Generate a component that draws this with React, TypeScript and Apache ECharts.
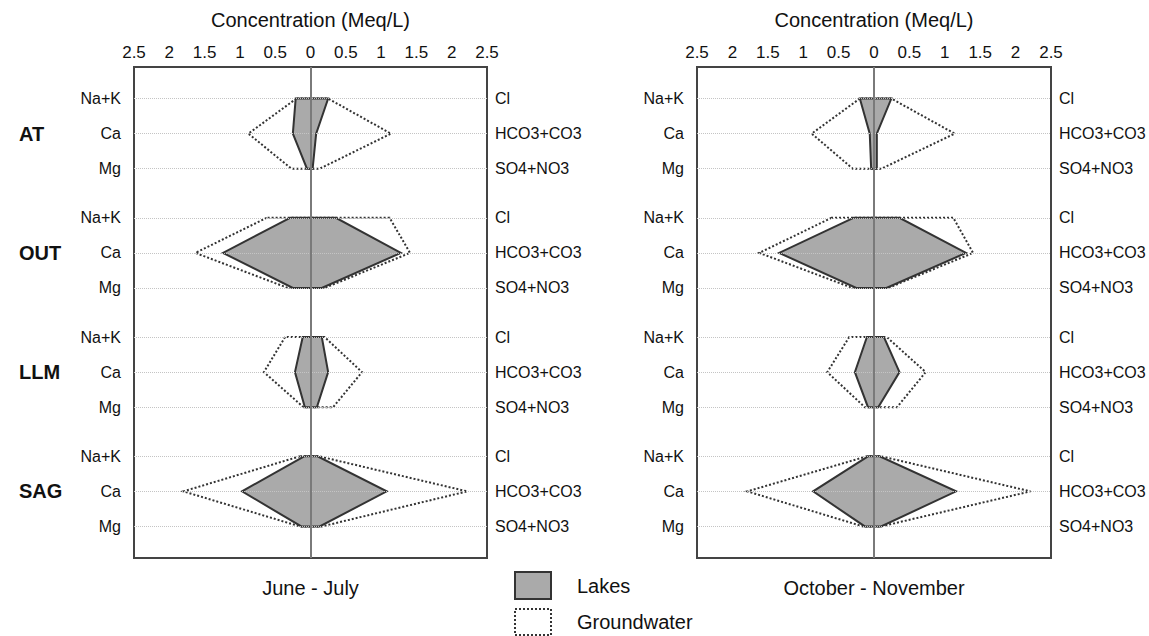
import React, { useEffect, useRef } from "react";
import * as echarts from "echarts";

// ---- data ----
const sites = ["AT", "OUT", "LLM", "SAG"];
const cations = ["Na+K", "Ca", "Mg"];
const anions = ["Cl", "HCO3+CO3", "SO4+NO3"];
const periods = ["June - July", "October - November"];
const seriesNames = ["Lakes", "Groundwater"];

// magnitudes (Meq/L): cations plotted to the left, anions to the right
const juneLakesCat = [[0.21, 0.25, 0.05], [0.29, 1.24, 0.25], [0.11, 0.22, 0.08], [0.09, 0.97, 0.13]];
const juneLakesAn = [[0.25, 0.08, 0.03], [0.36, 1.28, 0.16], [0.16, 0.25, 0.09], [0.1, 1.08, 0.13]];
const juneGwCat = [[0.2, 0.88, 0.27], [0.62, 1.63, 0.32], [0.36, 0.66, 0.1], [0.15, 1.8, 0.15]];
const juneGwAn = [[0.25, 1.14, 0.13], [1.12, 1.41, 0.2], [0.2, 0.73, 0.32], [0.12, 2.22, 0.16]];

const octLakesCat = [[0.2, 0.06, 0.04], [0.29, 1.34, 0.25], [0.1, 0.27, 0.085], [0.085, 0.86, 0.13]];
const octLakesAn = [[0.245, 0.04, 0.04], [0.36, 1.3, 0.175], [0.14, 0.36, 0.06], [0.08, 1.16, 0.1]];
const octGwCat = [[0.2, 0.88, 0.3], [0.6, 1.62, 0.305], [0.35, 0.66, 0.13], [0.1, 1.79, 0.155]];
const octGwAn = [[0.245, 1.14, 0.105], [1.12, 1.4, 0.2], [0.18, 0.73, 0.325], [0.1, 2.21, 0.1]];

const FONT = "'Liberation Sans', Arial, Helvetica, sans-serif";
const GROUP_STEP = 3.4;
const GROUP_OFFSET = 0.9;
const rowPos = (g: number, r: number) => +(g * GROUP_STEP + GROUP_OFFSET + r).toFixed(3);
const allRows: number[] = [];
sites.forEach((_, g) => [0, 1, 2].forEach((r) => allRows.push(rowPos(g, r))));
const caRows = sites.map((_, g) => rowPos(g, 1));

const findRow = (v: number) => {
  for (let g = 0; g < sites.length; g++)
    for (let r = 0; r < 3; r++) if (Math.abs(rowPos(g, r) - v) < 0.01) return r;
  return -1;
};
const findGroup = (v: number) => {
  for (let g = 0; g < sites.length; g++) if (Math.abs(rowPos(g, 1) - v) < 0.01) return g;
  return -1;
};

export default function App() {
  const ref = useRef<HTMLDivElement>(null);
  useEffect(() => {
    if (!ref.current) return;
    const chart = echarts.init(ref.current, undefined, { renderer: "svg" });

    const panels = [
      { left: 134, width: 353, lakesCat: juneLakesCat, lakesAn: juneLakesAn, gwCat: juneGwCat, gwAn: juneGwAn, groups: true },
      { left: 697, width: 354, lakesCat: octLakesCat, lakesAn: octLakesAn, gwCat: octGwCat, gwAn: octGwAn, groups: false },
    ];
    const top = 67;
    const height = 491;

    const grid: any[] = [];
    const xAxis: any[] = [];
    const yAxis: any[] = [];
    const series: any[] = [];
    const graphic: any[] = [];

    panels.forEach((p, pi) => {
      grid.push({ left: p.left, width: p.width, top, height, show: true, borderColor: "#444", borderWidth: 2, backgroundColor: "transparent" });
      xAxis.push({
        type: "value", gridIndex: pi, position: "top", min: -2.5, max: 2.5, interval: 0.5,
        axisLine: { show: false }, axisTick: { show: false }, splitLine: { show: false },
        axisLabel: { formatter: (v: number) => String(Math.abs(v)), fontSize: 17, color: "#111", margin: 6, fontFamily: FONT },
      });
      const baseY = pi * 3;
      yAxis.push({
        type: "value", gridIndex: pi, position: "left", offset: 0, inverse: true, min: 0, max: 14,
        axisLine: { show: false }, axisTick: { show: false }, splitLine: { show: false },
        axisLabel: { customValues: allRows, formatter: (v: number) => cations[findRow(v)] || "", fontSize: 16, color: "#111", margin: 13, fontFamily: FONT },
      });
      yAxis.push({
        type: "value", gridIndex: pi, position: "right", offset: 0, inverse: true, min: 0, max: 14,
        axisLine: { show: false }, axisTick: { show: false }, splitLine: { show: false },
        axisLabel: { customValues: allRows, formatter: (v: number) => anions[findRow(v)] || "", fontSize: 16, color: "#111", margin: 8, fontFamily: FONT },
      });
      yAxis.push({
        type: "value", gridIndex: pi, position: "left", offset: 0, inverse: true, min: 0, max: 14, show: p.groups,
        axisLine: { show: false }, axisTick: { show: false }, splitLine: { show: false },
        axisLabel: { customValues: caRows, formatter: (v: number) => sites[findGroup(v)] || "", fontSize: 20, fontWeight: "bold", color: "#111", margin: 115, align: "left", fontFamily: FONT },
      });

      const mkData = (cat: number[][], an: number[][]) => sites.map((_, g) => [g, ...cat[g], ...an[g]]);
      const mkRender = (lakes: boolean) => (params: any, api: any) => {
        const g = api.value(0);
        const pts = [
          api.coord([-api.value(1), rowPos(g, 0)]),
          api.coord([-api.value(2), rowPos(g, 1)]),
          api.coord([-api.value(3), rowPos(g, 2)]),
          api.coord([api.value(6), rowPos(g, 2)]),
          api.coord([api.value(5), rowPos(g, 1)]),
          api.coord([api.value(4), rowPos(g, 0)]),
        ];
        return {
          type: "polygon",
          shape: { points: pts },
          style: lakes
            ? { fill: "#aaaaaa", stroke: "#333", lineWidth: 2, lineJoin: "miter" }
            : { fill: "none", stroke: "#333", lineWidth: 2, lineDash: [2, 2] },
        };
      };

      series.push({
        type: "custom", name: seriesNames[1], xAxisIndex: pi, yAxisIndex: baseY, z: 2,
        renderItem: mkRender(false), data: mkData(p.gwCat, p.gwAn), silent: true,
        markLine: {
          silent: true, symbol: "none", label: { show: false },
          data: [
            ...allRows.map((r) => ({ yAxis: r, lineStyle: { color: "#c4c4c4", type: "dotted", width: 1 } })),
            { xAxis: 0, lineStyle: { color: "#7a7a7a", type: "solid", width: 2 } },
          ],
        },
      });
      series.push({
        type: "custom", name: seriesNames[0], xAxisIndex: pi, yAxisIndex: baseY, z: 3,
        renderItem: mkRender(true), data: mkData(p.lakesCat, p.lakesAn), silent: true,
      });

      const cx = p.left + p.width / 2;
      graphic.push({ type: "text", x: cx, y: 20, style: { text: "Concentration (Meq/L)", fontSize: 20, fontFamily: FONT, fill: "#111", textAlign: "center", textVerticalAlign: "middle" } });
      graphic.push({ type: "text", x: cx, y: 588, style: { text: periods[pi], fontSize: 20, fontFamily: FONT, fill: "#111", textAlign: "center", textVerticalAlign: "middle" } });
    });

    // legend
    graphic.push({ type: "rect", shape: { x: 515, y: 572, width: 36, height: 27 }, style: { fill: "#aaaaaa", stroke: "#333", lineWidth: 2 } });
    graphic.push({ type: "text", x: 577, y: 586, style: { text: seriesNames[0], fontSize: 20, fontFamily: FONT, fill: "#111", textVerticalAlign: "middle" } });
    graphic.push({ type: "rect", shape: { x: 515, y: 609, width: 36, height: 26 }, style: { fill: "none", stroke: "#333", lineWidth: 2, lineDash: [2, 2] } });
    graphic.push({ type: "text", x: 577, y: 622, style: { text: seriesNames[1], fontSize: 20, fontFamily: FONT, fill: "#111", textVerticalAlign: "middle" } });

    chart.setOption({
      animation: false,
      backgroundColor: "#fff",
      textStyle: { fontFamily: FONT },
      grid, xAxis, yAxis, series, graphic,
    });
    return () => chart.dispose();
  }, []);
  return <div ref={ref} style={{ position: "fixed", left: 0, top: 0, width: 1149, height: 636 }} />;
}
